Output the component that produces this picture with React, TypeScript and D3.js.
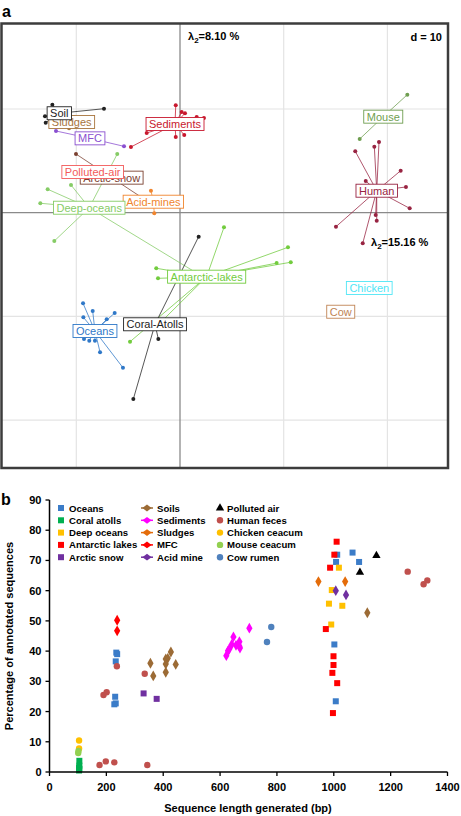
import React from "react";
import * as d3 from "d3";

// ---------- Panel a : between-class analysis (units of the d = 10 grid) ----------
const groupNames = [
  "Sludges", "Soil", "MFC", "Sediments", "Arctic-snow", "Polluted-air", "Acid-mines",
  "Deep-oceans", "Antarctic-lakes", "Coral-Atolls", "Oceans", "Mouse", "Human", "Chicken", "Cow",
];
const groupCenters: [number, number][] = [
  [-10.44, 8.75], [-11.64, 9.59], [-8.68, 7.17], [-0.48, 8.55], [-6.59, 3.38], [-8.42, 3.92], [-2.57, 1.06],
  [-8.75, 0.48], [2.57, -6.17], [-2.41, -10.76], [-8.2, -11.41], [19.6, 9.26], [18.97, 2.12], [18.25, -7.26], [15.5, -9.55],
];
const groupPoints: [number, number][][] = [
  [[-10.7, 8.14], [-10.22, 9.23]],
  [[-12.31, 10.41], [-13.02, 9.3], [-12.95, 8.68], [-7.33, 10.03]],
  [[-11.96, 7.88], [-5.4, 6.4]],
  [[-4.73, 6.34], [-3.21, 7.69], [-0.41, 10.36], [0.16, 9.71], [0.48, 9.59], [1.61, 9.23], [2.31, 9.13], [-0.41, 7.3], [0.41, 7.49]],
  [[-10.03, 5.66], [-3.18, 1.13]],
  [[-8.87, 4.12], [-7.91, 3.73]],
  [[-2.8, 2.12], [-2.48, -0.06]],
  [[-6.05, 5.66], [-10.51, 2.67], [-12.76, 2.26], [-13.47, 0.91], [-12.12, -2.73], [1.45, -5.72]],
  [[4.24, -1.41], [10.41, -3.34], [9.32, -4.86], [10.68, -4.78], [-2.29, -5.36], [-2.12, -6.33], [-4.82, -12.44], [-2.12, -10.83]],
  [[1.8, -2.31], [-2.09, -12.18], [-4.5, -17.97]],
  [[-9.35, -8.74], [-8.42, -9.48], [-9.32, -10.09], [-7.07, -10.28], [-6.3, -9.67], [-9.26, -12.18], [-8.75, -12.34], [-8.2, -12.34], [-7.71, -13.46], [-5.5, -14.95]],
  [[21.92, 11.38], [17.33, 7.11]],
  [[16.9, 5.92], [18.74, 6.36], [19.19, 6.82], [21.28, 4.05], [21.79, 2.48], [22.15, 0.42], [17.91, 3.06], [18.87, -0.22], [18.97, -0.77], [15.04, -1.35], [17.62, -2.95]],
  [],
  [],
];
const groupColors = [
  "#a8753e", "#222222", "#8a4fd0", "#c8182e", "#7a4030", "#f25a5a", "#f0852e",
  "#86cc66", "#72cc3e", "#222222", "#2f78c8", "#6f9e50", "#982442", "#4fe6f6", "#c08455",
];
const gridTicksA = [-10, 0, 10, 20];
const gridTicksAy = [-20, -10, 0, 10];

// ---------- Panel b : annotated sequences vs sequence length ----------
const seriesNames = [
  "Oceans", "Coral atolls", "Deep oceans", "Antarctic lakes", "Arctic snow",
  "Soils", "Sediments", "Sludges", "MFC", "Acid mine",
  "Polluted air", "Human feces", "Chicken ceacum", "Mouse ceacum", "Cow rumen",
];
const seriesShapes = [
  "square", "square", "square", "square", "square",
  "diamond", "diamond", "diamond", "diamond", "diamond",
  "triangle", "circle", "circle", "circle", "circle",
];
const seriesColors = [
  "#3b7cc8", "#00b050", "#ffc000", "#ff0000", "#7030a0",
  "#9c6b35", "#ff00ff", "#e46c0a", "#ff0000", "#7030a0",
  "#000000", "#c0504d", "#ffc000", "#92d050", "#4f81bd",
];
const seriesValues: [number, number][][] = [
  [[235, 39.5], [238, 39], [233, 36.6], [231, 24.9], [228, 22.4], [233, 22.7], [1002, 42.2], [1007, 23.4], [1012, 71.9], [1066, 72.6], [1008, 69.5], [1089, 69.5]],
  [[105, 3.7], [105, 2.1], [104, 1.5], [105, 1.0], [104, 0.5]],
  [[991, 48.8], [983, 55.7], [1030, 55], [993, 60.2], [1018, 67.6]],
  [[999, 38.3], [999, 35.4], [995, 32.8], [1012, 29.4], [997, 19.5], [972, 47.3], [1010, 76.2], [1002, 71.9], [987, 67.6]],
  [[331, 26], [377, 24.2]],
  [[355, 36], [365, 31.8], [409, 37.4], [416, 37.6], [409, 35.7], [409, 33], [427, 39.7], [444, 35.6], [1118, 52.7]],
  [[622, 38.5], [628, 40.1], [632, 40.6], [641, 42.2], [647, 44.7], [656, 41.9], [668, 43.1], [668, 41.6], [670, 41], [703, 47.6]],
  [[946, 63], [1040, 63]],
  [[238, 50.2], [238, 46.7]],
  [[1007, 60], [1043, 58.6]],
  [[1150, 71.6], [1092, 66.1]],
  [[176, 2.3], [198, 3.5], [228, 3.2], [344, 2.3], [190, 25.5], [201, 26.4], [237, 35], [335, 32.5], [1260, 66.3], [1316, 62.1], [1329, 63.4]],
  [[104, 10.4], [104, 7.8]],
  [[102, 7], [101, 6.3]],
  [[765, 43], [780, 48]],
];
const xTicksB = [0, 200, 400, 600, 800, 1000, 1200, 1400];
const yTicksB = [0, 10, 20, 30, 40, 50, 60, 70, 80, 90];

const FONT = "'Liberation Sans', Arial, Helvetica, sans-serif";

let measureCtx: CanvasRenderingContext2D | null = null;
function textWidth(s: string, font: string) {
  if (!measureCtx) measureCtx = document.createElement("canvas").getContext("2d");
  if (!measureCtx) return s.length * 6;
  measureCtx.font = font;
  return measureCtx.measureText(s).width;
}

function Marker({ shape, x, y, color, legend }: { shape: string; x: number; y: number; color: string; legend?: boolean }) {
  if (shape === "square") return <rect x={x - 3} y={y - 3} width={6} height={6} fill={color} />;
  if (shape === "circle") return <circle cx={x} cy={y} r={3.2} fill={color} />;
  if (shape === "diamond" && legend) {
    return <path d={`M${x - 4.6},${y}L${x},${y - 3.4}L${x + 4.6},${y}L${x},${y + 3.4}Z`} fill={color} />;
  }
  const sym = shape === "triangle" ? d3.symbolTriangle : d3.symbolDiamond;
  const size = shape === "triangle" ? 30 : 34;
  return <path d={d3.symbol(sym, size)() || ""} transform={`translate(${x},${y})`} fill={color} />;
}

export default function App() {
  const xA = d3.scaleLinear().domain([0, 10]).range([180, 283.7]);
  const yA = d3.scaleLinear().domain([0, 10]).range([212.7, 109]);
  const frame = { x0: 1.5, y0: 23.5, x1: 448, y1: 468 };

  const xB = d3.scaleLinear().domain([0, 1400]).range([49.5, 447.5]);
  const yB = d3.scaleLinear().domain([0, 90]).range([772, 500]);

  const labelFont = `11px ${FONT}`;
  const legendCols = [61, 147, 220];
  const legendRows = [508, 520.3, 532.6, 544.9, 557.2];

  return (
    <svg width={461} height={816} style={{ position: "absolute", left: 0, top: 0, background: "#fff" }} fontFamily={FONT}>
      <rect width={461} height={816} fill="#fff" />
      <text x={2} y={17} fontSize={16} fontWeight="bold">a</text>
      <defs>
        <clipPath id="clipA">
          <rect x={frame.x0} y={frame.y0} width={frame.x1 - frame.x0} height={frame.y1 - frame.y0} />
        </clipPath>
      </defs>
      <g clipPath="url(#clipA)">
        {gridTicksA.filter((t) => t !== 0).map((t) => (
          <line key={"gx" + t} x1={xA(t)} x2={xA(t)} y1={frame.y0} y2={frame.y1} stroke="#e4e4e4" strokeWidth={1.2} />
        ))}
        {gridTicksAy.filter((t) => t !== 0).map((t) => (
          <line key={"gy" + t} y1={yA(t)} y2={yA(t)} x1={frame.x0} x2={frame.x1} stroke="#e4e4e4" strokeWidth={1.2} />
        ))}
        <line x1={xA(0)} x2={xA(0)} y1={frame.y0} y2={frame.y1} stroke="#8a8a8a" strokeWidth={1.3} />
        <line y1={yA(0)} y2={yA(0)} x1={frame.x0} x2={frame.x1} stroke="#8a8a8a" strokeWidth={1.3} />

        {groupNames.map((g, i) => (
          <g key={"l" + g}>
            {groupPoints[i].map((p, j) => (
              <line key={j} x1={xA(groupCenters[i][0])} y1={yA(groupCenters[i][1])} x2={xA(p[0])} y2={yA(p[1])}
                stroke={groupColors[i]} strokeWidth={0.9} opacity={0.85} />
            ))}
          </g>
        ))}
        {groupNames.map((g, i) => (
          <g key={"p" + g}>
            {groupPoints[i].map((p, j) => (
              <circle key={j} cx={xA(p[0])} cy={yA(p[1])} r={2} fill={groupColors[i]} />
            ))}
          </g>
        ))}
        {groupNames.map((g, i) => {
          const w = textWidth(g, labelFont) + 6;
          const cx = xA(groupCenters[i][0]);
          const cy = yA(groupCenters[i][1]);
          return (
            <g key={"t" + g}>
              <rect x={cx - w / 2} y={cy - 6.5} width={w} height={13} fill="#fff" stroke={groupColors[i]} strokeWidth={0.9} />
              <text x={cx} y={cy + 4} textAnchor="middle" fontSize={11} fill={groupColors[i]}>{g}</text>
            </g>
          );
        })}

        <text x={188} y={40} fontSize={11} fontWeight="bold">
          λ<tspan dy={2.5} fontSize={8}>2</tspan><tspan dy={-2.5}>=8.10 %</tspan>
        </text>
        <text x={442} y={41} fontSize={11} fontWeight="bold" textAnchor="end">d = 10</text>
        <text x={371} y={246} fontSize={11} fontWeight="bold">
          λ<tspan dy={2.5} fontSize={8}>2</tspan><tspan dy={-2.5}>=15.16 %</tspan>
        </text>
      </g>
      <rect x={frame.x0} y={frame.y0} width={frame.x1 - frame.x0} height={frame.y1 - frame.y0}
        fill="none" stroke="#3c3c3c" strokeWidth={2.5} />

      <text x={1} y={505} fontSize={16} fontWeight="bold">b</text>

      {seriesNames.map((s, i) => (
        <g key={"s" + s}>
          {seriesValues[i].map((v, j) => (
            <Marker key={j} shape={seriesShapes[i]} x={xB(v[0])} y={yB(v[1])} color={seriesColors[i]} />
          ))}
        </g>
      ))}

      <line x1={xB(0)} x2={xB(1400)} y1={yB(0)} y2={yB(0)} stroke="#000" strokeWidth={1.5} />
      <line x1={xB(0)} x2={xB(0)} y1={yB(0)} y2={yB(90)} stroke="#000" strokeWidth={1.5} />
      {xTicksB.map((t) => (
        <g key={"xt" + t}>
          <line x1={xB(t)} x2={xB(t)} y1={yB(0)} y2={yB(0) + 4} stroke="#000" strokeWidth={1.3} />
          <text x={xB(t)} y={yB(0) + 19} textAnchor="middle" fontSize={11} fontWeight="bold">{t}</text>
        </g>
      ))}
      {yTicksB.map((t) => (
        <g key={"yt" + t}>
          <line x1={xB(0) - 4} x2={xB(0)} y1={yB(t)} y2={yB(t)} stroke="#000" strokeWidth={1.3} />
          <text x={xB(0) - 8} y={yB(t) + 4} textAnchor="end" fontSize={11} fontWeight="bold">{t}</text>
        </g>
      ))}
      <text x={248} y={812} textAnchor="middle" fontSize={11} fontWeight="bold">Sequence length generated (bp)</text>
      <text transform={`translate(13,${(yB(0) + yB(90)) / 2}) rotate(-90)`} textAnchor="middle" fontSize={11} fontWeight="bold">
        Percentage of annotated sequences
      </text>

      {seriesNames.map((s, i) => {
        const col = Math.floor(i / 5);
        const row = i % 5;
        const mx = legendCols[col];
        const my = legendRows[row];
        return (
          <g key={"lg" + s}>
            {col === 1 && <line x1={mx - 6} x2={mx + 6} y1={my} y2={my} stroke={seriesColors[i]} strokeWidth={1.5} />}
            <Marker shape={seriesShapes[i]} x={mx} y={my} color={seriesColors[i]} legend />
            <text x={mx + (col === 1 ? 10 : col === 0 ? 8 : 7)} y={my + 3.5} fontSize={9.6} fontWeight="bold">{s}</text>
          </g>
        );
      })}
    </svg>
  );
}
